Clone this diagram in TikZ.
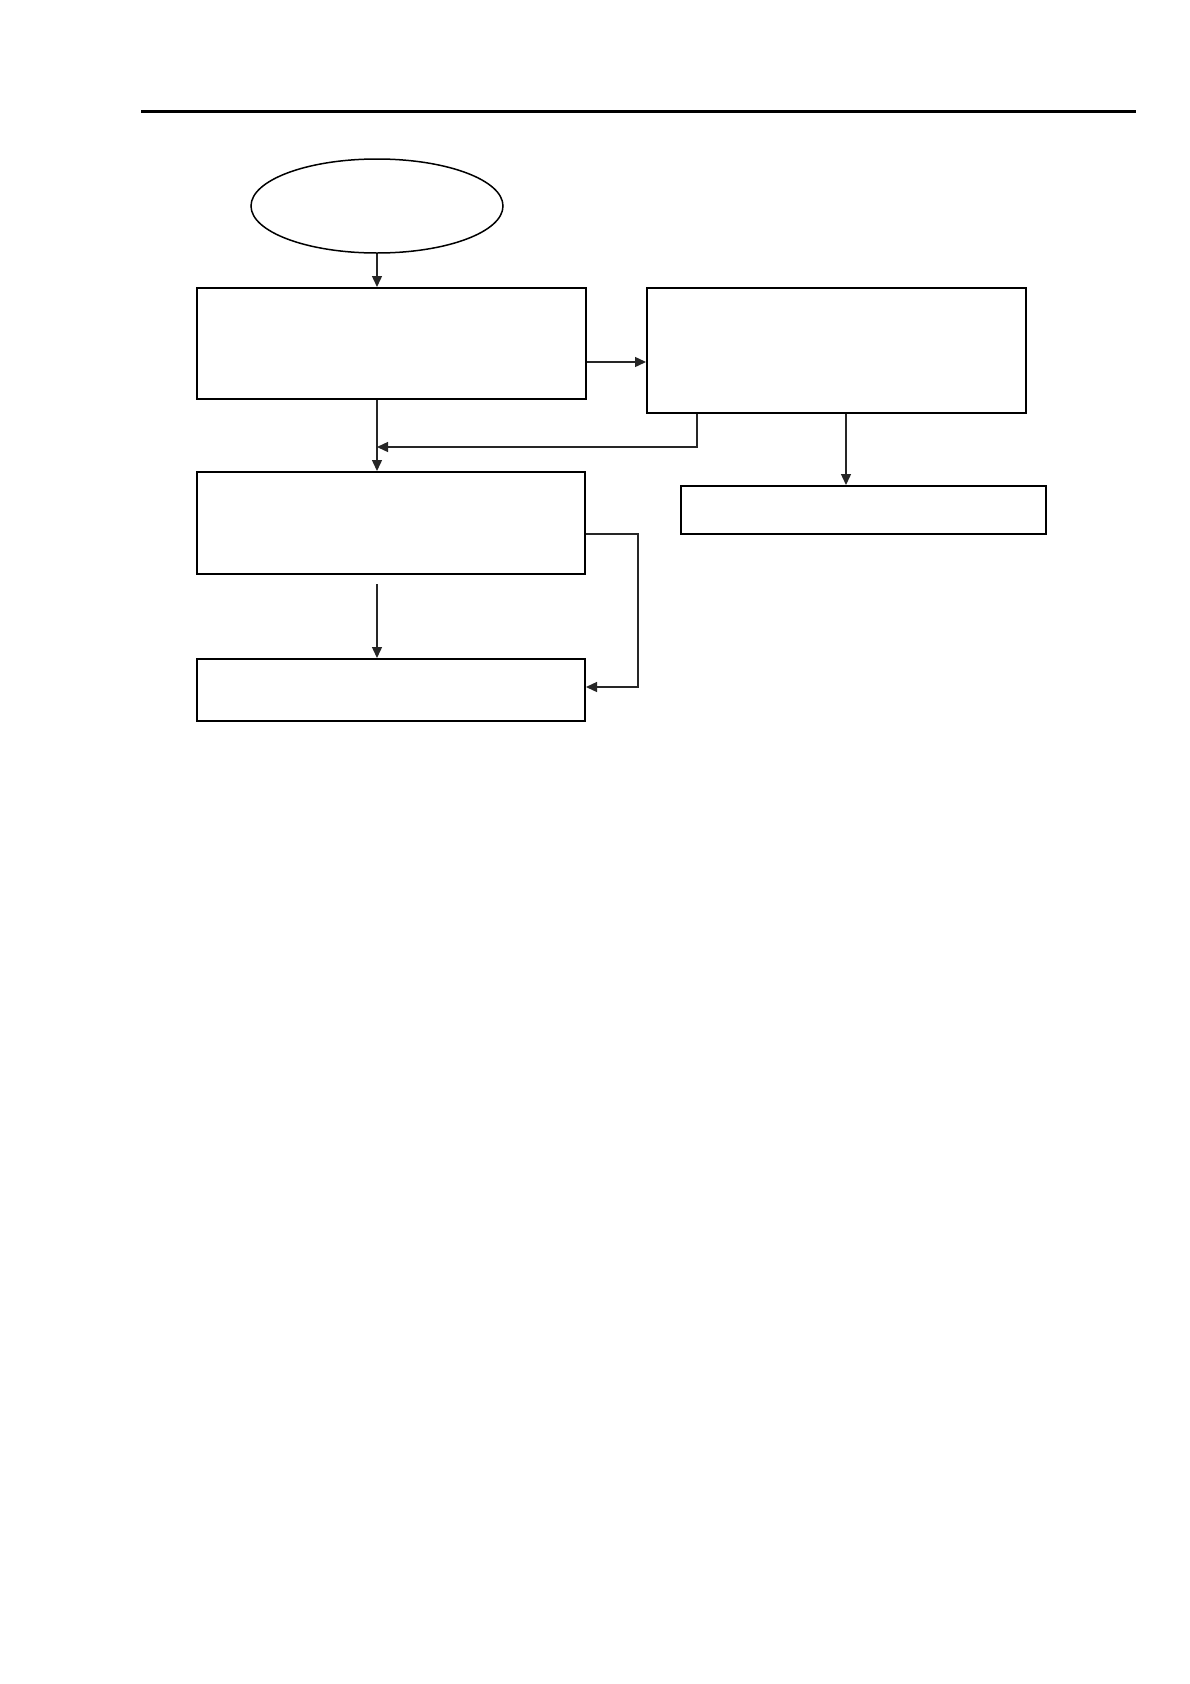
\documentclass[tikz,border=0pt]{standalone}
\usetikzlibrary{arrows.meta,shapes.geometric}
\begin{document}
\begin{tikzpicture}[x=1pt,y=-1pt,
  boxstyle/.style={draw=black,line width=2pt,rectangle,inner sep=0pt,fill=white},
  ellstyle/.style={draw=black,line width=1.5pt,ellipse,inner sep=0pt},
  conn/.style={draw=black!85,line width=1.4pt},
  arr/.style={conn,-{Triangle[length=11pt,width=10pt]}}]
\useasboundingbox (0,0) rectangle (1190,1684);
\fill[white] (0,0) rectangle (1190,1684);
\draw[line width=3pt] (141,111) -- (1136,111);
\node[ellstyle,minimum width=252pt,minimum height=94pt] (ell) at (377,206) {};
\node[boxstyle,minimum width=389pt,minimum height=111pt] (b1) at (391.5,343.5) {};
\node[boxstyle,minimum width=379pt,minimum height=125pt] (b2) at (836.5,350.5) {};
\node[boxstyle,minimum width=365pt,minimum height=48pt] (b3) at (863.5,510) {};
\node[boxstyle,minimum width=388pt,minimum height=102pt] (b4) at (391,523) {};
\node[boxstyle,minimum width=388pt,minimum height=62pt] (b5) at (391,690) {};
\draw[arr] (ell.south) -- (ell.south |- b1.north);
\draw[arr] (b1.east |- 0,362) -- (b2.west |- 0,362);
\draw[arr] (ell.south |- b1.south) -- (ell.south |- b4.north);
\draw[arr] (b2.south -| 697,0) -- (697,447) -- (ell.south |- 0,447);
\draw[arr] (b2.south -| 846,0) -- (b3.north -| 846,0);
\draw[arr] (ell.south |- 0,584) -- (ell.south |- b5.north);
\draw[arr] (b4.east |- 0,534) -- (638,534) -- (638,687) -- (b5.east |- 0,687);
\end{tikzpicture}
\end{document}
